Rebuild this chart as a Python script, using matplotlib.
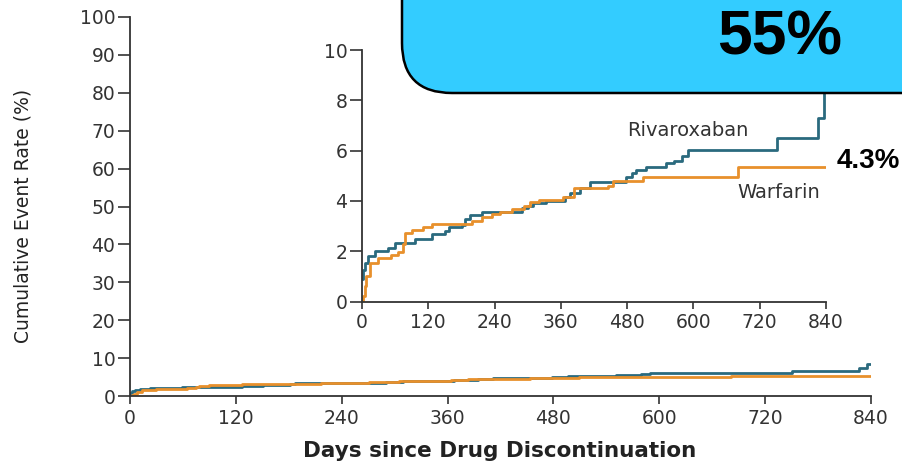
import matplotlib
matplotlib.use("Agg")
import matplotlib.pyplot as plt
from matplotlib.patches import FancyBboxPatch

# Kaplan-Meier style step data (days, cumulative event rate %)
riva_days = [0, 2, 6, 11, 23, 47, 59, 96, 127, 151, 157, 181, 187, 196, 217,
             290, 300, 310, 334, 367, 376, 394, 412, 478, 488, 496, 514, 551,
             565, 579, 590, 751, 826, 836, 840]
riva_vals = [0.9, 1.25, 1.55, 1.8, 2.0, 2.13, 2.32, 2.5, 2.7, 2.8, 2.96, 3.04,
             3.3, 3.44, 3.56, 3.7, 3.8, 3.9, 4.0, 4.17, 4.3, 4.5, 4.76, 4.96,
             5.1, 5.23, 5.36, 5.5, 5.6, 5.8, 6.02, 6.5, 7.3, 8.5, 8.5]

warf_days = [0, 2, 5, 8, 14, 29, 53, 65, 75, 78, 90, 110, 127, 181, 199, 217,
             235, 250, 271, 293, 305, 321, 364, 383, 446, 454, 509, 681, 840]
warf_vals = [0.0, 0.2, 0.6, 1.0, 1.53, 1.73, 1.85, 1.98, 2.3, 2.72, 2.84, 2.98,
             3.08, 3.1, 3.21, 3.37, 3.49, 3.55, 3.68, 3.8, 3.95, 4.05, 4.15,
             4.5, 4.6, 4.8, 4.95, 5.35, 5.35]

x_ticks = [0, 120, 240, 360, 480, 600, 720, 840]
main_y_ticks = list(range(0, 101, 10))
inset_y_ticks = [0, 2, 4, 6, 8, 10]

riva_color = '#2a6a7e'
warf_color = '#e8902c'
axis_color = '#333333'
tick_font = 'DejaVu Sans'

fig = plt.figure(figsize=(9.03, 4.63), dpi=100)

# main axes
W, H = 903, 463
ax = fig.add_axes([130 / W, (H - 396) / H, 741 / W, 379 / H])
ax.plot(riva_days, riva_vals, drawstyle='steps-post', color=riva_color, lw=2)
ax.plot(warf_days, warf_vals, drawstyle='steps-post', color=warf_color, lw=2)
ax.set_xlim(0, 840)
ax.set_ylim(0, 100)
ax.set_xticks(x_ticks)
ax.set_yticks(main_y_ticks)
for s in ['top', 'right']:
    ax.spines[s].set_visible(False)
for s in ['left', 'bottom']:
    ax.spines[s].set_color(axis_color)
    ax.spines[s].set_linewidth(1.3)
ax.tick_params(axis='y', length=8.5, width=1.2, color=axis_color, pad=2)
ax.tick_params(axis='x', length=6, width=1.2, color=axis_color, pad=3)
for lab in ax.get_xticklabels() + ax.get_yticklabels():
    lab.set_fontfamily(tick_font)
    lab.set_fontsize(13.5)
    lab.set_color(axis_color)
ax.set_ylabel('Cumulative Event Rate (%)', fontsize=13.5,
              family=['Liberation Sans Narrow', 'DejaVu Sans'], color='#222222')
ax.yaxis.set_label_coords(-0.132, 0.475)
ax.set_xlabel('Days since Drug Discontinuation', fontsize=15.5,
              family=tick_font, fontweight='bold', color='#222222')
ax.xaxis.set_label_coords(0.4993, -0.12)

# inset axes
ins = fig.add_axes([362 / W, (H - 301.5) / H, 464 / W, 251.5 / H])
ins.plot(riva_days, riva_vals, drawstyle='steps-post', color=riva_color, lw=2)
ins.plot(warf_days, warf_vals, drawstyle='steps-post', color=warf_color, lw=2)
ins.set_xlim(0, 840)
ins.set_ylim(0, 10)
ins.set_xticks(x_ticks)
ins.set_yticks(inset_y_ticks)
ins.patch.set_alpha(0)
for s in ['top', 'right']:
    ins.spines[s].set_visible(False)
for s in ['left', 'bottom']:
    ins.spines[s].set_color(axis_color)
    ins.spines[s].set_linewidth(1.3)
ins.tick_params(axis='y', length=8.5, width=1.2, color=axis_color, pad=2)
ins.tick_params(axis='x', length=5, width=1.2, color=axis_color, pad=3)
for lab in ins.get_xticklabels() + ins.get_yticklabels():
    lab.set_fontfamily(tick_font)
    lab.set_fontsize(13.5)
    lab.set_color(axis_color)
ins.text(590, 6.78, 'Rivaroxaban', family=tick_font, fontsize=14,
         color='#333333', ha='center', va='center')
ins.text(755, 4.35, 'Warfarin', family=tick_font, fontsize=14,
         color='#333333', ha='center', va='center')

# overlay in pixel units for the callout box and annotations
top = fig.add_axes([0, 0, 1, 1])
top.set_xlim(0, W)
top.set_ylim(H, 0)
top.axis('off')
top.patch.set_alpha(0)
box = FancyBboxPatch((402, -120), 700, 213,
                     boxstyle='round,pad=0,rounding_size=50',
                     facecolor='#33ccff', edgecolor='black', lw=1.8)
top.add_patch(box)
top.text(780, 38, '55%', family='Liberation Sans', fontweight='bold',
         fontsize=45, ha='center', va='center', color='black')
top.text(868, 161, '4.3%', family='Liberation Sans', fontweight='bold',
         fontsize=20, ha='center', va='center', color='black')

plt.savefig('out.png', dpi=100)
